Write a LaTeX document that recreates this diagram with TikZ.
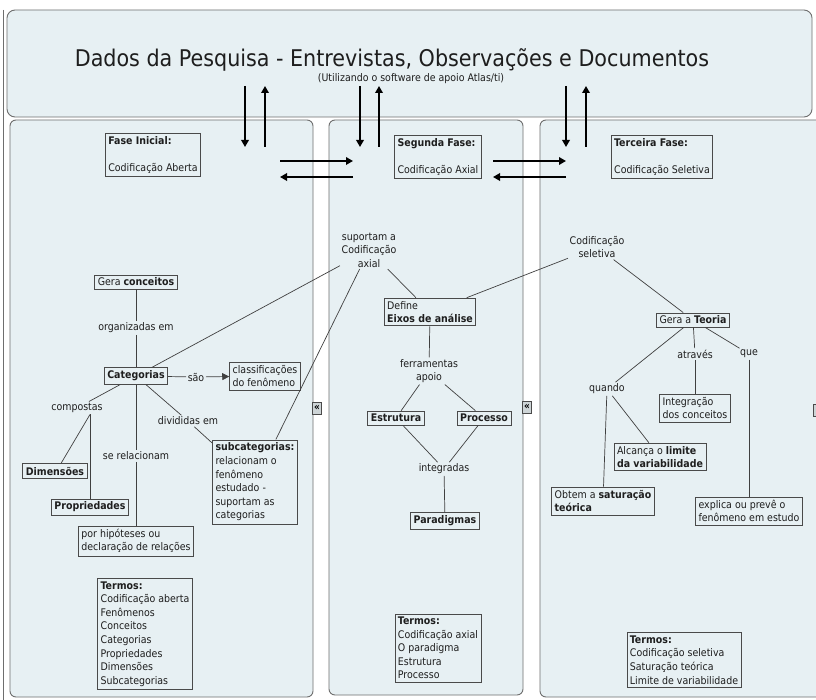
\documentclass[tikz,border=0pt]{standalone}
\usepackage{fontspec}
\setmainfont{DejaVu Sans Condensed}
\usetikzlibrary{arrows.meta,calc}
\definecolor{panelbg}{HTML}{E7F0F3}
\definecolor{panelline}{HTML}{6E6E6E}
\definecolor{boxline}{HTML}{4A4A4A}
\definecolor{ink}{HTML}{1E1E1E}
\newcommand\txt{\fontsize{10.5}{13.6}\selectfont}
\begin{document}
\begin{tikzpicture}[x=1pt,y=-1pt,
  panel/.style={draw=panelline,fill=panelbg,line width=0.9pt,rounded corners=6pt},
  cbox/.style={draw=boxline,line width=0.8pt,inner sep=3pt,font=\txt,text=ink,align=left},
  lbl/.style={inner sep=1.5pt,font=\txt,text=ink,align=center},
  conn/.style={draw=ink!85,line width=0.7pt},
  flow/.style={draw=black,line width=2.2pt,-{Triangle[length=7pt,width=7.5pt]}},
  fold/.style={draw=boxline,fill=panelbg!75!gray,line width=0.6pt,inner sep=0pt,
    minimum width=9pt,minimum height=12pt,font=\fontsize{10}{10}\selectfont\bfseries}]
\useasboundingbox (0,0) rectangle (816,700);
\fill[white] (0,0) rectangle (816,700);

% frame and panels
\draw[panelline,line width=0.8pt] (3,10) -- (3,700);
\draw[panel,rounded corners=8pt] (7,10) rectangle (812,117);
\draw[panel] (10,120) rectangle (313,697);
\draw[panel] (329,120) rectangle (523,695);
\draw[panel] (540,120) rectangle (830,697);

% banner text
\node[font=\fontsize{23}{26}\selectfont,text=ink] (title) at (392,60)
  {Dados da Pesquisa - Entrevistas, Observações e Documentos};
\node[font=\fontsize{10.5}{12}\selectfont,text=ink] (sub) at (411,79)
  {(Utilizando o software de apoio Atlas/ti)};

% flow arrows between the data banner and the phases
\coordinate (a1t) at (245,86); \coordinate (a1b) at (245,147);
\coordinate (a2t) at (265,86); \coordinate (a2b) at (265,147);
\coordinate (b1t) at (360,86); \coordinate (b1b) at (360,147);
\coordinate (b2t) at (379,86); \coordinate (b2b) at (379,147);
\coordinate (c1t) at (566,86); \coordinate (c1b) at (566,147);
\coordinate (c2t) at (586,86); \coordinate (c2b) at (586,147);
\draw[flow] (a1t) -- (a1b);
\draw[flow] (a2b) -- (a2t);
\draw[flow] (b1t) -- (b1b);
\draw[flow] (b2b) -- (b2t);
\draw[flow] (c1t) -- (c1b);
\draw[flow] (c2b) -- (c2t);
\coordinate (h1l) at (280,161); \coordinate (h1r) at (353,161);
\coordinate (h2l) at (280,177); \coordinate (h2r) at (353,177);
\coordinate (h3l) at (493,161); \coordinate (h3r) at (566,161);
\coordinate (h4l) at (493,177); \coordinate (h4r) at (566,177);
\draw[flow] (h1l) -- (h1r);
\draw[flow] (h2r) -- (h2l);
\draw[flow] (h3l) -- (h3r);
\draw[flow] (h4r) -- (h4l);

% ---------- Fase inicial ----------
\node[cbox] (f1) at (153,155) {\textbf{Fase Inicial:}\\[13pt]Codificação Aberta};
\node[cbox] (gc) at (136,282) {Gera \textbf{conceitos}};
\node[lbl] (org) at (136,328) {organizadas em};
\node[cbox] (cat) at (136,376) {\textbf{Categorias}};
\node[lbl] (sao) at (196,377) {são};
\node[cbox] (cls) at (265,376) {classificações\\do fenômeno};
\node[lbl] (comp) at (77,408) {compostas};
\node[lbl] (div) at (188,421) {divididas em};
\node[lbl] (rel) at (136,456) {se relacionam};
\node[cbox] (dim) at (55,471) {\textbf{Dimensões}};
\node[cbox] (prop) at (90,507) {\textbf{Propriedades}};
\node[cbox] (hip) at (136,541) {por hipóteses ou\\declaração de relações};
\node[cbox] (subc) at (255,482) {\textbf{subcategorias:}\\relacionam o\\fenômeno\\estudado -\\suportam as\\categorias};
\node[cbox] (t1) at (145,634) {\textbf{Termos:}\\Codificação aberta\\Fenômenos\\Conceitos\\Categorias\\Propriedades\\Dimensões\\Subcategorias};

\draw[conn] (gc) -- (org);
\draw[conn] (org) -- (cat);
\draw[conn] (cat) -- (sao);
\draw[conn,-{Triangle[length=7pt,width=7pt]}] (sao) -- (cls);
\draw[conn] (cat) -- (comp);
\coordinate (cj) at (comp.south -| prop.north);
\draw[conn] (cj) -- (prop.north);
\draw[conn] (cj) -- ($(dim.north)+(6,0)$);
\draw[conn] (cat) -- (rel);
\draw[conn] (rel) -- (hip);
\draw[conn] (cat) -- (div);
\draw[conn] (div) -- (subc);

% ---------- Segunda fase ----------
\node[cbox] (f2) at (438,157) {\textbf{Segunda Fase:}\\[13pt]Codificação Axial};
\node[lbl] (sup) at (369,250) {suportam a\\Codificação\\axial};
\node[cbox] (eix) at (430,312) {Define\\\textbf{Eixos de análise}};
\node[lbl] (fer) at (429,371) {ferramentas\\apoio};
\node[cbox] (est) at (396,418) {\textbf{Estrutura}};
\node[cbox] (proc) at (484,418) {\textbf{Processo}};
\node[lbl] (int) at (444,469) {integradas};
\node[cbox] (par) at (445,521) {\textbf{Paradigmas}};
\node[cbox] (t2) at (438,648) {\textbf{Termos:}\\Codificação axial\\O paradigma\\Estrutura\\Processo};

\draw[conn] (cat) -- (sup);
\draw[conn] (subc) -- (sup);
\draw[conn] (sup) -- (eix);
\draw[conn] (eix) -- (fer);
\draw[conn] (fer) -- (est);
\draw[conn] (fer) -- (proc);
\draw[conn] (est) -- (int);
\draw[conn] (proc) -- (int);
\draw[conn] (int) -- (par);

% ---------- Terceira fase ----------
\node[cbox] (f3) at (662,157) {\textbf{Terceira Fase:}\\[13pt]Codificação Seletiva};
\node[lbl] (sel) at (597,247) {Codificação\\seletiva};
\node[cbox] (teo) at (693,320) {Gera a \textbf{Teoria}};
\node[lbl] (atr) at (695,354) {através};
\node[lbl] (que) at (749,354) {que};
\node[lbl] (qdo) at (607,389) {quando};
\node[cbox] (itg) at (695,408) {Integração\\dos conceitos};
\node[cbox] (alc) at (660,457) {Alcança o \textbf{limite}\\\textbf{da variabilidade}};
\node[cbox] (obt) at (603,501) {Obtem a \textbf{saturação}\\\textbf{teórica}};
\node[cbox] (exp) at (749,511) {explica ou prevê o\\fenômeno em estudo};
\node[cbox] (t3) at (684,660) {\textbf{Termos:}\\Codificação seletiva\\Saturação teórica\\Limite de variabilidade};

\draw[conn] (eix) -- (sel);
\draw[conn] (sel) -- (teo);
\draw[conn] (teo) -- (qdo);
\draw[conn] (teo) -- (atr);
\draw[conn] (teo) -- (que);
\draw[conn] (atr) -- (itg);
\draw[conn] (qdo) -- (alc);
\draw[conn] (qdo) -- (obt);
\draw[conn] (que) -- (exp);

% collapse markers on the panel edges
\node[fold] (m1) at (317,408) {«};
\node[fold] (m2) at (527,407) {«};
\draw[fold] (813,404) rectangle (822,416);
\end{tikzpicture}
\end{document}
